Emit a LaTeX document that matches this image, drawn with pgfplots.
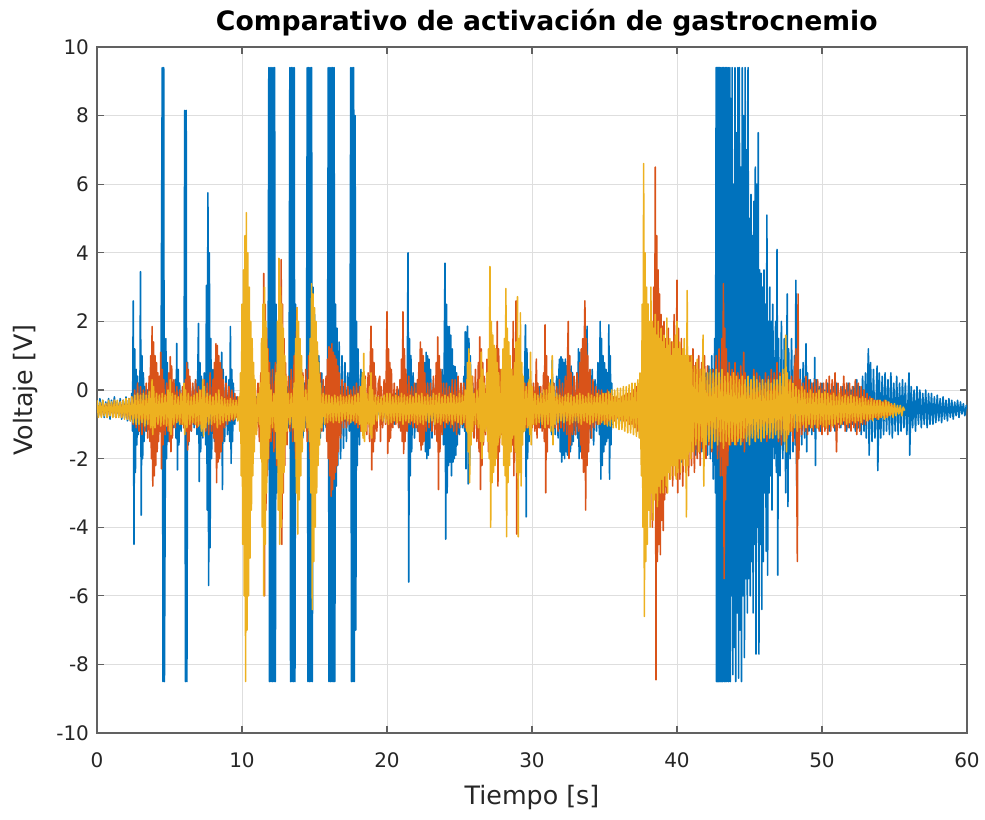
\documentclass[border=0pt]{standalone}
\usepackage{pgfplots}
\pgfplotsset{compat=1.18}
\usepackage{fontspec}
\setmainfont{DejaVu Sans}
\definecolor{mblue}{rgb}{0,0.447,0.741}
\definecolor{morange}{rgb}{0.85,0.325,0.098}
\definecolor{myellow}{rgb}{0.929,0.694,0.125}
\begin{document}
\begin{tikzpicture}
\begin{axis}[
  scale only axis, width=652.5pt, height=514.5pt,
  xmin=0, xmax=60, ymin=-10, ymax=10,
  xtick={0,10,...,60}, ytick={-10,-8,...,10},
  grid=major, major grid style={color=black!13, line width=0.6pt},
  axis line style={color=black!62, line width=1pt},
  major tick length=5pt, tick style={color=black!62, line width=0.8pt},
  tick align=inside,
  /pgf/number format/assume math mode=true,
  ticklabel style={font=\fontsize{15}{18}\selectfont, color=black!85},
  xticklabel style={yshift=-11pt},
  yticklabel style={xshift=-2.5pt},
  xlabel={Tiempo [s]}, ylabel={Voltaje [V]},
  label style={font=\fontsize{19}{22}\selectfont, color=black!85},
  xlabel style={at={(axis description cs:0.5,-0.1035)}, anchor=base},
  ylabel style={at={(axis description cs:-0.0747,0.5)}, anchor=base},
  title={Comparativo de activación de gastrocnemio},
  title style={font=\bfseries\fontsize{20}{24}\selectfont, at={(axis description cs:0.517,1.0131)}, anchor=base},
  every axis plot/.append style={line width=1.2pt, line join=round},
]
% blue
\addplot[mblue] coordinates {
(0,-0.4)(0.1,-0.75)(0.2,-0.25)(0.3,-0.7)(0.4,-0.3)(0.5,-0.8)(0.6,-0.35)(0.7,-0.75)(0.8,-0.25)(0.9,-0.85)(1,-0.3)(1.1,-0.7)(1.2,-0.2)(1.3,-0.8)(1.4,-0.35)(1.5,-0.75)(1.6,-0.25)(1.7,-0.85)(1.8,-0.3)(1.9,-0.8)(2,-0.2)(2.1,-0.9)(2.2,-0.25)(2.3,-0.85)(2.4,-0.1)
(2.45,-1.2)(2.5,2.6)(2.55,-4.5)(2.6,1.2)(2.65,-2.4)(2.7,0.6)(2.75,-1.6)(2.8,0.4)(2.85,-1.3)(2.9,0.2)(2.95,-1.2)(3,3.45)(3.05,-3.65)(3.1,1)(3.15,-2)(3.2,0.5)(3.25,-1.5)(3.3,0.1)(3.4,-1.2)(3.5,0)(3.6,-1.1)(3.7,-0.1)(3.8,-1)(3.9,0)(4,-1.1)(4.1,-0.1)(4.2,-1)(4.3,0.2)(4.4,-1.2)
(4.5,9.4)(4.55,-8.5)(4.6,9.4)(4.65,-8.5)(4.75,1.5)(4.8,-2)(4.85,0.8)(4.9,-1.5)(5,0.3)(5.1,-1.2)(5.2,0.1)(5.3,-1.1)(5.4,0.3)(5.45,-1.4)(5.5,1.36)(5.55,-2.33)(5.6,0.6)(5.65,-1.6)(5.7,0.2)(5.8,-1.2)(5.9,0)(6,-1.1)
(6.05,8.15)(6.1,-8.5)(6.15,8.15)(6.2,-8.5)(6.25,0.8)(6.3,-1.6)(6.4,0.3)(6.5,-1.2)(6.6,0.1)(6.7,-1.1)(6.8,0.3)(6.9,-1.3)(6.95,0.5)(7,1.94)(7.05,-2.67)(7.1,0.8)(7.15,-1.8)(7.2,0.4)(7.3,-1.4)(7.4,0.5)(7.5,-1.6)(7.55,3.05)(7.6,-3.5)(7.65,5.75)(7.7,-5.7)(7.75,4)(7.8,-4.6)(7.85,1.5)(7.9,-2)(8,0.6)(8.1,-1.5)(8.2,0.4)(8.3,-1.3)(8.4,0.2)(8.5,-1.1)(8.6,1.1)(8.65,-2.9)(8.7,0.6)(8.8,-1.5)(8.9,0.4)(9,-1.3)(9.1,0.3)(9.15,-1.5)(9.2,1.85)(9.25,-2.14)(9.3,0.6)(9.35,-1.5)(9.4,0.2)(9.5,-1)(9.6,-0.2)(9.7,-0.85)(9.8,-0.3)(9.9,-0.8)(10,-0.25)(10.1,-0.9)(10.2,-0.3)(10.3,-0.8)(10.4,-0.2)(10.5,-0.9)(10.6,-0.25)(10.7,-0.85)(10.8,-0.3)(10.9,-0.9)(11,-0.2)(11.1,-0.95)(11.2,-0.25)(11.3,-0.9)(11.4,-0.1)(11.5,-1)(11.6,-0.15)(11.7,-1.1)(11.8,0)
(11.85,9.4)(11.9,-8.5)(11.95,9.4)(12,-8.5)(12.05,9.4)(12.1,-8.5)(12.15,9.4)(12.2,-8.5)(12.25,9.4)(12.3,-8.5)(12.35,2.5)(12.4,-3)(12.45,1.8)(12.5,-2.4)(12.55,1.2)(12.6,-2)(12.7,0.8)(12.8,-1.6)(12.9,0.4)(13,-1.3)(13.1,0.1)(13.2,-1.1)(13.25,0)
(13.3,9.4)(13.35,-8.5)(13.4,9.4)(13.45,-8.5)(13.5,9.4)(13.55,-8.5)(13.6,9.4)(13.65,-8.5)(13.7,2.5)(13.75,-2.8)(13.8,1.8)(13.85,-2.2)(13.9,1.2)(14,-1.8)(14.1,0.6)(14.2,-1.4)(14.3,0.2)(14.4,-1.1)(14.45,0)
(14.5,9.4)(14.55,-8.5)(14.6,9.4)(14.65,-8.5)(14.7,9.4)(14.75,-8.5)(14.8,9.4)(14.85,-8.5)(14.9,3)(14.95,-3)(15,2.2)(15.05,-2.4)(15.1,1.6)(15.2,-1.8)(15.3,1)(15.4,-1.4)(15.5,0.5)(15.6,-1.2)(15.7,0.1)(15.8,-1.1)(15.9,0)
(15.95,9.4)(16,-8.5)(16.05,9.4)(16.1,-8.5)(16.15,9.4)(16.2,-8.5)(16.25,9.4)(16.3,-8.5)(16.35,9.4)(16.4,-8.5)(16.45,2.5)(16.5,-2.8)(16.55,1.8)(16.6,-2.2)(16.7,1.4)(16.8,-2)(16.9,1)(17,-1.7)(17.1,0.8)(17.2,-1.5)(17.3,0.5)(17.4,-1.2)(17.45,0.2)
(17.5,9.4)(17.55,-8.5)(17.6,9.4)(17.65,-8.5)(17.7,9.4)(17.75,-8.5)(17.8,8)(17.85,-7)(17.9,2)(17.95,-2.2)(18,1.2)(18.1,-1.6)(18.2,0.6)(18.3,-1.2)(18.4,0.1)(18.5,-1)(18.6,-0.1)(18.7,-0.9)(18.8,-0.2)(18.9,-0.9)(19,-0.2)(19.1,-0.85)(19.2,-0.25)(19.3,-0.9)(19.4,-0.2)(19.5,-0.8)(19.6,-0.3)(19.7,-0.95)(19.8,-0.2)(19.9,-0.85)(20,-0.1)(20.1,-1)(20.2,0)(20.3,-0.9)(20.4,-0.2)(20.5,-1)(20.6,-0.1)(20.7,-0.9)(20.8,0)(20.9,-1.1)(21,0.1)(21.1,-1)(21.2,-0.1)(21.3,-1.2)(21.4,0.3)
(21.45,4)(21.5,-5.6)(21.55,1.5)(21.6,-2.5)(21.65,1)(21.7,-1.8)(21.8,0.5)(21.9,-1.4)(22,0.2)(22.1,-1.2)(22.2,0.3)(22.3,-1.3)(22.4,0.4)(22.5,-1.4)
(22.6,0.8)(22.65,-1.8)(22.7,1.1)(22.75,-2)(22.8,1)(22.85,-1.9)(22.9,0.9)(22.95,-1.7)(23,0.6)(23.1,-1.4)(23.2,0.2)(23.3,-1.1)(23.4,0.1)(23.5,-1.2)(23.6,0.3)(23.7,-1.3)(23.8,0.6)(23.9,-1.6)
(23.95,1)(24,3.7)(24.05,-4.35)(24.1,2.5)(24.15,-3)(24.2,1.85)(24.25,-2.2)(24.3,1.85)(24.35,-2.1)(24.4,1.6)(24.45,-2.5)(24.5,1.2)(24.55,-2.1)(24.6,0.7)(24.65,-2)(24.7,0.68)(24.75,-1.9)(24.8,0.5)(24.85,-1.6)(24.9,0.3)(25,-1.3)(25.1,0.1)(25.2,-1.1)(25.3,0.4)(25.35,-1.2)
(25.4,1.7)(25.45,-2.3)(25.5,1.2)(25.55,1.86)(25.6,-2.74)(25.65,1.5)(25.7,-2.2)(25.75,1)(25.8,-1.5)(25.9,0.2)(26,-1.1)(26.1,0)(26.2,-1)(26.3,-0.1)(26.4,-0.9)(26.5,0.1)(26.6,-1.1)(26.7,-0.2)(26.8,-1)(26.9,0)(27,-0.9)(27.1,-0.1)(27.2,-1.1)(27.3,0.1)(27.4,-1)(27.5,0)(27.6,-1.2)(27.7,0.2)(27.8,-1)(27.9,0)(28,-1.1)(28.1,0.2)(28.2,-1.3)(28.3,0.1)(28.4,-1.2)(28.5,0.3)(28.6,-1.1)(28.7,0.1)(28.8,-1.3)(28.9,0.2)(29,-1.2)(29.1,0.4)(29.2,-1.4)(29.3,0.3)(29.4,-1.2)(29.5,0.6)
(29.55,1.9)(29.6,-3.7)(29.65,1.2)(29.7,-2)(29.75,0.6)(29.8,-1.5)(29.9,0.2)(30,-1)(30.1,0)(30.2,-1.1)(30.3,-0.1)(30.4,-1)(30.5,0.1)(30.6,-1.1)(30.7,-0.1)(30.8,-1)(30.9,0.2)(31,-1.2)(31.1,0)(31.2,-1.1)(31.3,0.3)(31.35,-1.3)(31.4,0.87)(31.45,-1.5)(31.5,0.2)(31.6,-1.3)(31.7,0.4)(31.8,-1.4)(31.85,0.5)
(31.9,0.9)(31.95,-1.8)(32,0.97)(32.05,-2.1)(32.1,0.9)(32.15,-1.9)(32.2,0.8)(32.25,-2)(32.3,0.9)(32.35,-1.8)(32.4,0.7)(32.45,-1.9)(32.5,0.8)(32.55,-1.7)(32.6,0.6)(32.65,-1.8)(32.7,0.7)(32.75,-1.6)(32.8,0.5)(32.85,-1.5)(32.9,0.3)(33,-1.3)(33.1,0.5)(33.15,-1.4)(33.2,1.2)(33.25,-2)(33.3,1.1)(33.35,-1.8)(33.4,0.6)(33.45,-1.6)(33.55,0.7)(33.65,-1.4)(33.75,0.6)(33.8,1.86)(33.85,-1.8)(33.95,0.4)(34.05,-1.4)(34.15,0.6)(34.25,-1.6)(34.35,0.3)(34.45,-1.2)(34.55,0.8)(34.65,-1.3)
(34.7,2)(34.75,-2.6)(34.8,1.5)(34.85,-2.2)(34.9,1)(34.95,-1.8)(35,0.8)(35.05,-1.6)(35.1,0.6)(35.15,-1.5)(35.2,0.5)(35.25,-1.4)(35.3,1.9)(35.35,-2.6)(35.4,1)(35.45,-1.6)(35.5,0.2)(35.55,-1)(35.65,-0.2)(35.75,-0.9)(35.85,-0.3)(35.95,-0.85)(36.05,-0.25)(36.15,-0.9)(36.25,-0.3)(36.35,-0.8)(36.45,-0.2)(36.55,-0.85)(36.65,-0.3)(36.75,-0.9)(36.85,-0.25)(36.95,-0.8)(37.05,-0.2)(37.15,-0.95)(37.25,-0.1)(37.35,-1)(37.45,0)
(37.5,-1.1)(37.6,0.1)(37.7,-1.2)(37.8,0.2)(37.9,-1.4)(38,0.3)(38.1,-1.5)(38.2,0.5)(38.3,-1.6)(38.4,0.4)(38.5,-1.5)(38.6,0.6)(38.7,-1.8)(38.8,0.5)(38.9,-1.6)(39,0.7)(39.1,-1.7)(39.2,0.5)(39.3,-1.8)(39.4,0.6)(39.5,-1.9)(39.6,0.8)(39.7,-1.7)(39.8,0.6)(39.9,-2)(40,0.9)(40.1,-1.8)(40.2,0.7)(40.3,-2.1)(40.4,0.6)(40.5,-1.9)(40.6,0.8)(40.7,-1.7)(40.8,0.5)(40.9,-1.8)(41,0.6)(41.1,-1.6)(41.2,0.7)(41.3,-1.9)(41.4,0.5)(41.5,-1.7)(41.6,0.6)(41.7,-1.8)(41.8,0.4)(41.9,-1.6)(42,0.5)(42.1,-1.9)(42.2,0.7)(42.3,-2)(42.4,1)(42.5,-2.6)(42.6,1.5)(42.65,-3)
(42.7,9.4)(42.725,-8.5)(42.75,9.4)(42.775,-8.5)(42.8,9.4)(42.825,-8.5)(42.85,9.4)(42.875,-8.5)(42.9,9.4)(42.925,-8.5)(42.95,9.4)(42.975,-8.5)(43,9.4)(43.025,-8.5)(43.05,9.4)(43.075,-8.5)(43.1,8)(43.125,-8.5)(43.15,9.4)(43.175,-8.5)(43.2,9.4)(43.225,-7.5)(43.25,9.4)(43.275,-8.5)(43.3,6.5)(43.325,-8.5)(43.35,9.4)(43.375,-8)(43.4,9.4)(43.425,-8.5)(43.45,7)(43.475,-6.5)(43.5,9.4)(43.525,-8.5)(43.55,9.4)(43.575,-8.5)(43.6,5.5)(43.625,-7)(43.65,9.4)(43.675,-8.5)(43.7,8.5)(43.75,-6)(43.8,9.4)(43.85,-8.3)(43.9,6)(43.95,-7.5)(44,9.4)(44.05,-8.5)(44.1,7.5)(44.15,-6.5)(44.2,9.4)(44.25,-8.4)(44.3,9.4)(44.35,-7)(44.4,6.5)(44.45,-8.5)(44.5,9.4)(44.55,-6)(44.6,8)(44.65,-7.8)(44.7,9.4)(44.75,-5.5)(44.8,7)(44.85,-6.5)(44.9,9.4)(44.95,-5.5)
(45,5)(45.05,-6)(45.1,5.7)(45.15,-5)(45.2,4.5)(45.25,-6.5)(45.3,5.5)(45.35,-4.5)(45.4,6.5)(45.45,-7.7)(45.5,6)(45.55,-4)(45.6,7.5)(45.65,-7.7)(45.7,3.5)(45.75,-4.5)(45.8,3.4)(45.85,-6.4)(45.9,3)(45.95,-5)(46,3.5)(46.05,-3)(46.1,2.5)(46.15,-4.7)(46.2,5.1)(46.25,-5.4)(46.3,2)(46.35,-3)(46.4,3)(46.45,-2.5)(46.5,2)(46.55,-3.5)(46.6,2.5)(46.7,-2)(46.8,2)(46.85,-2.4)(46.9,4.1)(46.95,-5.4)(47,1.5)(47.1,-2.5)(47.2,2)(47.3,-2)(47.4,1.5)(47.5,-3)(47.6,2.8)(47.65,-3.4)(47.7,1.2)(47.8,-2)(47.9,1.5)(48,-1.8)(48.1,1)(48.15,-1.6)(48.2,3.2)(48.25,-2.8)(48.3,0.8)(48.4,-1.5)(48.5,0.6)(48.6,-1.6)(48.7,0.8)(48.8,-1.4)(48.9,1.35)(48.95,-1.8)(49,0.5)(49.1,-1.2)(49.2,0.3)(49.3,-1.3)(49.4,0.2)(49.45,-1.2)(49.5,0.95)(49.55,-2.2)
(49.6,0.3)(49.7,-1.1)(49.8,0.1)(49.9,-1.2)(50,0.2)(50.1,-1)(50.2,0)(50.3,-1.1)(50.4,0.2)(50.5,-1.2)(50.6,0)(50.7,-1)(50.8,0.1)(50.9,-1.2)(51,0.2)(51.1,-1)(51.2,-0.1)(51.3,-1.1)(51.4,0.1)(51.5,-1)(51.6,0)(51.7,-1.2)(51.8,0.2)(51.9,-1.1)(52,0)(52.1,-1)(52.2,0.1)(52.3,-1.2)(52.4,0.3)(52.5,-1.1)(52.6,0.1)(52.7,-1.3)(52.8,0.4)(52.9,-1.2)(53,0.5)(53.05,-1.4)(53.2,1.2)(53.25,-1.9)(53.35,0.8)(53.45,-1.5)(53.55,0.6)(53.65,-1.4)(53.8,0.7)(53.85,-2.35)(53.95,0.5)(54.05,-1.4)(54.15,0.4)(54.25,-1.3)(54.35,0.5)(54.45,-1.2)(54.55,0.3)(54.65,-1.3)(54.75,0.5)(54.85,-1.4)(54.95,0.2)(55.05,-1.2)(55.15,0.4)(55.25,-1.3)(55.35,0.2)(55.45,-1.2)(55.55,0.3)(55.65,-1.1)(55.75,0.2)(55.85,-1.3)(56,0.5)(56.05,-1.9)(56.15,0.1)(56.25,-1.1)(56.35,0)(56.45,-1.2)(56.55,0.1)(56.65,-1)(56.75,0)(56.85,-1.1)(56.95,-0.1)(57.05,-1)(57.15,0)(57.25,-1.1)(57.35,-0.1)(57.45,-1)(57.55,-0.1)(57.65,-1)(57.75,-0.2)(57.85,-0.95)(57.95,-0.15)(58.05,-0.9)(58.15,-0.25)(58.25,-0.95)(58.35,-0.2)(58.45,-0.85)(58.55,-0.3)(58.65,-0.9)(58.75,-0.25)(58.85,-0.8)(58.95,-0.3)(59.05,-0.85)(59.15,-0.35)(59.25,-0.75)(59.35,-0.3)(59.45,-0.8)(59.55,-0.35)(59.65,-0.7)(59.75,-0.4)(59.85,-0.75)(59.95,-0.45)(60,-0.55)
};
% orange
\addplot[morange] coordinates {
(0,-0.4)(0.1,-0.7)(0.2,-0.45)(0.3,-0.75)(0.4,-0.35)(0.5,-0.7)(0.6,-0.4)(0.7,-0.8)(0.8,-0.35)(0.9,-0.7)(1,-0.4)(1.1,-0.75)(1.2,-0.3)(1.3,-0.8)(1.4,-0.4)(1.5,-0.7)(1.6,-0.35)(1.7,-0.8)(1.8,-0.3)(1.9,-0.75)(2,-0.35)(2.1,-0.85)(2.2,-0.25)(2.3,-0.9)(2.4,-0.2)
(2.5,-1)(2.6,0)(2.7,-1.1)(2.8,0.2)(2.9,-1.2)(3,0.1)(3.1,-1.3)(3.2,0)(3.3,-1.2)(3.4,0.2)(3.5,-1.4)
(3.6,0.4)(3.65,-1.5)(3.7,1)(3.75,-2)(3.8,1.85)(3.85,-2.8)(3.9,1.4)(3.95,-2.5)(4,1)(4.05,-2.2)(4.1,0.8)(4.15,-1.8)(4.2,0.5)(4.25,-1.5)(4.3,0.4)(4.35,-1.2)(4.4,1.1)(4.45,-2.3)(4.5,0.6)(4.55,-1.6)(4.6,0.3)(4.7,-1.3)(4.8,0.2)(4.9,-1.2)
(4.95,0.5)(5,-1.5)(5.05,0.97)(5.1,-1.8)(5.15,0.7)(5.2,-1.4)(5.3,0.3)(5.4,-1.1)(5.5,0.1)(5.6,-0.9)(5.7,0)(5.8,-1)(5.9,0.1)(6,-1.1)(6.1,0.3)(6.15,-1.2)(6.2,0.8)(6.25,-1.75)(6.3,0.6)(6.35,-1.5)(6.4,0.4)(6.5,-1.2)(6.6,0.2)(6.7,-1)(6.8,0.3)(6.9,-1.1)(7,0.1)(7.1,-1)(7.2,0)(7.3,-1.1)(7.4,0.3)(7.5,-1.2)(7.6,0.2)(7.7,-1.3)(7.8,0.5)(7.9,-1.2)(8,0.3)(8.05,-1.4)
(8.1,0.8)(8.15,-1.8)(8.2,1.35)(8.25,-2.7)(8.3,1.3)(8.35,-2.1)(8.4,1)(8.45,-2)(8.5,0.8)(8.55,-1.8)(8.6,0.6)(8.65,-1.5)(8.7,0.3)(8.8,-1.1)(8.9,0.2)(9,-1)(9.1,0.1)(9.2,-0.9)(9.3,0)(9.4,-0.9)(9.5,-0.1)(9.6,-0.8)(9.7,-0.2)(9.8,-0.85)(9.9,-0.3)(10,-0.8)(10.1,-0.25)(10.2,-0.9)(10.3,-0.2)(10.4,-1)(10.5,-0.1)(10.6,-1)(10.7,0)(10.8,-1.1)(10.9,0.1)(11,-1.2)(11.1,0.2)(11.2,-1.5)(11.3,0.5)(11.35,-2)
(11.4,1.5)(11.45,-3)(11.5,3.4)(11.55,-6)(11.6,2.5)(11.65,-3.5)(11.7,1.8)(11.75,-2.5)(11.8,1.2)(11.85,-2)(11.9,0.8)(12,-1.5)(12.1,0.6)(12.2,-1.8)(12.3,0.8)(12.4,-2.2)(12.5,1.5)(12.55,-2.5)(12.6,2)(12.65,-3)(12.7,3.8)(12.75,-4.5)(12.8,2.5)(12.85,-3)(12.9,1.5)(12.95,-2.2)(13,0.8)(13.1,-1.6)(13.2,0.4)(13.3,-1.2)(13.4,0.6)(13.5,-1.5)(13.6,1)(13.7,-2)(13.75,1.5)(13.8,2.4)(13.85,-2.8)(13.9,1.5)(13.95,-2)(14,1)(14.1,-1.5)(14.2,0.5)(14.3,-1.2)(14.4,0.6)(14.5,-1.5)(14.6,1)(14.7,-2)(14.75,1.5)(14.8,-2.5)(14.9,2)(14.95,-2.2)(15,1.5)(15.1,-1.8)(15.2,1)(15.3,-1.5)(15.4,0.5)(15.5,-1.2)(15.6,0.3)(15.7,-1)(15.8,0.4)(15.85,-1.5)
(15.9,0.9)(15.95,-2)(16,1.26)(16.05,-2.5)(16.1,1.2)(16.15,-3.1)(16.2,1.35)(16.25,-2.9)(16.3,1.1)(16.35,-2.6)(16.4,1)(16.45,-2.4)(16.5,0.9)(16.55,-2.2)(16.6,0.7)(16.65,-1.8)(16.7,0.5)(16.8,-1.4)(16.9,0.3)(17,-1.1)(17.1,0.2)(17.2,-1.1)(17.3,0.1)(17.4,-1)(17.5,0)(17.6,-0.9)(17.7,0.1)(17.8,-1)(17.9,0.2)(18,-1.1)(18.1,0.1)(18.2,-1.2)(18.3,0.3)(18.4,-1.1)(18.5,0.4)(18.6,-1.3)(18.7,0.5)(18.8,-1.5)(18.85,0.8)(18.9,1.86)(18.95,-2.33)(19,1.2)(19.05,-1.8)(19.1,0.8)(19.15,-1.5)(19.2,0.4)(19.3,-1.2)(19.4,0.2)(19.5,0.4)(19.55,-1.5)(19.6,0.1)(19.7,-1.1)(19.8,0.3)(19.9,-1)(19.95,0.5)(20,2.28)(20.05,-1.85)(20.1,1.2)(20.15,-1.5)(20.2,0.8)(20.25,-1.4)(20.3,0.6)(20.4,-1.1)(20.5,0.2)(20.6,-1)(20.7,0.1)(20.8,-1.1)(20.9,0.3)(20.95,-1.2)(21,0.9)(21.05,-1.5)(21.1,2.28)(21.15,-1.85)(21.2,1.2)(21.25,-1.5)(21.3,0.6)(21.4,-1.2)(21.5,0.4)(21.6,-1)(21.7,0.1)(21.8,-1.1)(21.9,0.2)(22,-1.1)(22.1,0.3)(22.15,-1.2)
(22.2,0.8)(22.25,-1.5)(22.3,1.4)(22.35,-1.75)(22.4,1.2)(22.45,-1.6)(22.5,1)(22.55,-1.5)(22.6,0.5)(22.7,-1.2)(22.8,0.2)(22.9,-1.1)(23,0.2)(23.1,-1.2)(23.2,0.4)(23.3,-1.3)(23.4,0.8)(23.45,-1.5)(23.5,1.55)(23.55,-2.9)(23.6,1)(23.65,-1.8)(23.7,0.6)(23.8,-1.3)(23.9,0.2)(24,-1.1)(24.1,0.2)(24.2,-1)(24.3,0.1)(24.4,-1.1)(24.5,0.3)(24.6,-1.2)(24.7,0.3)(24.8,-1.3)(24.9,0.4)(25,-1.1)(25.1,0.2)(25.2,-1)(25.3,0.2)(25.4,-1.1)(25.5,0.3)(25.6,-1.2)(25.7,0.5)(25.8,-1.3)(25.9,0.4)(26,-1.4)(26.1,0.6)(26.2,-1.5)(26.3,0.8)
(26.35,-1.8)(26.4,1.55)(26.45,-2.9)(26.5,1.2)(26.55,-2.2)(26.6,0.8)(26.65,-1.6)(26.7,0.4)(26.8,-1.3)(26.9,0.9)(27,-1.8)(27.1,0.5)(27.2,-1.2)(27.3,0.4)(27.4,-1.3)(27.5,0.8)(27.55,-1.3)(27.6,2)(27.65,-2.8)(27.7,1.2)(27.75,-1.8)(27.8,0.6)(27.9,-1.3)(28,0.3)(28.1,-1.2)(28.2,0.3)(28.3,-1.1)(28.4,0.4)(28.5,-1.3)(28.6,0.5)(28.65,-1.6)(28.7,2)(28.75,-2.5)(28.8,1.2)(28.85,-1.8)(28.9,2.6)(28.95,-4.2)(29,1.2)(29.05,-2)(29.1,0.6)(29.2,-1.4)(29.3,0.3)(29.4,-1.2)(29.5,0.2)(29.6,-1.1)(29.7,0.2)(29.8,-1)(29.9,0.3)(30,-1.1)(30.1,0.2)(30.2,-1.2)(30.3,0.9)(30.35,-1.4)(30.4,0.2)(30.5,-1.1)(30.6,0.1)(30.7,-1.2)(30.8,0.5)(30.85,-1.5)(30.9,1.9)(30.95,-3)(31,1)(31.05,-1.8)(31.1,0.4)(31.2,-1.1)(31.3,0.1)(31.4,-1)(31.5,0.2)(31.6,-1.1)(31.7,0.1)(31.8,-1.2)(31.9,0.3)(32,-1.1)(32.1,0.2)(32.2,-1.2)(32.3,0.4)(32.4,-1.3)(32.45,0.8)(32.5,2)(32.55,-2)(32.6,1)(32.65,-1.6)(32.7,0.5)(32.8,-1.3)(32.9,0.4)(33,-1.3)(33.1,0.5)(33.2,-1.2)(33.3,0.8)(33.35,-1.6)(33.4,1.2)(33.45,-2)(33.5,1.5)(33.55,-2.4)(33.6,1.2)(33.65,2.6)(33.7,-3.5)(33.75,1.5)(33.8,-2.2)(33.85,1)(33.9,-1.8)(34,0.6)(34.1,-1.4)(34.2,0.3)(34.3,-1.1)(34.4,0.1)(34.5,-1)(34.6,0)(34.7,-1)(34.8,0)(34.9,-0.9)(35,-0.1)(35.1,-1)(35.2,0)(35.3,-0.9)(35.4,-0.1)(35.5,-0.85)(35.6,-0.2)(35.7,-0.9)(35.8,-0.2)(35.9,-0.8)(36,-0.25)(36.1,-0.85)(36.2,-0.2)(36.3,-0.9)(36.4,-0.15)(36.5,-0.9)(36.6,-0.1)(36.7,-1)(36.8,-0.1)(36.9,-1)(37,0)(37.1,-1.1)(37.2,0.1)(37.3,-1.2)(37.4,0.2)(37.5,-1.3)(37.55,0.4)(37.6,-1.5)(37.65,1)
(37.7,-2)(37.8,1.5)(37.9,-3)(38,2.5)(38.1,-3.5)(38.2,2)(38.3,-4)(38.4,3)(38.45,-2.5)(38.5,6.5)(38.55,-8.45)(38.6,4.5)(38.65,-5)(38.7,3.5)(38.75,-4.5)(38.8,2.8)(38.85,-4.8)(38.9,2.2)(38.95,-3.8)(39,1.86)(39.05,-4.1)(39.1,2)(39.15,-3.2)(39.2,1.5)(39.3,-3)(39.4,1.8)(39.5,-2.6)(39.6,1.4)(39.7,-2.8)(39.8,2.2)(39.9,-2.5)(40,3.2)(40.05,-3)(40.1,1.8)(40.2,-2.6)(40.3,1.5)(40.4,-2.8)(40.5,1.2)(40.6,-2.4)(40.7,1.4)(40.8,-2.5)(40.9,1)(41,-2.2)(41.1,1.2)(41.2,-2.4)(41.3,0.8)(41.4,-2)(41.5,1)(41.6,-2.2)(41.7,0.8)(41.8,-1.8)(41.9,1)(42,-2)(42.1,0.7)(42.2,-1.6)(42.3,0.5)(42.4,-1.8)(42.5,0.6)(42.6,-1.5)(42.7,1)(42.8,-2)(42.9,1.2)(43,-2.5)(43.1,1.5)(43.15,-2.5)(43.2,3.1)(43.25,-5.5)(43.3,1.8)(43.35,-3.2)(43.4,1.2)(43.5,-2.2)(43.6,0.8)(43.7,-1.6)(43.8,0.6)(43.9,-1.5)(44,0.8)(44.1,-1.6)(44.2,0.5)(44.3,-1.4)(44.4,0.7)(44.5,-1.5)(44.6,1.1)(44.65,-1.8)(44.7,0.5)(44.8,-1.3)(44.9,0.4)(45,-1.4)(45.1,0.3)(45.2,-1.2)(45.3,0.6)(45.4,-1.5)(45.5,0.5)(45.6,-1.3)(45.7,0.4)(45.8,-1.4)(45.9,0.3)(46,-1.2)(46.1,0.5)(46.2,-1.5)(46.3,0.4)(46.4,-1.3)(46.5,0.6)(46.6,-1.4)(46.7,0.5)(46.8,-1.2)(46.9,0.8)(47,-1.5)(47.1,0.5)(47.2,-1.6)(47.3,0.4)(47.4,-1.3)(47.5,0.6)(47.6,-1.4)(47.7,0.3)(47.8,-1.2)(47.9,0.4)(48,-1.5)(48.1,0.5)(48.2,1.2)(48.3,-5)(48.35,2.8)(48.4,-2)(48.5,0.3)(48.6,-1.3)(48.7,0.2)(48.8,-1.2)(48.9,0.4)(49,-1.3)(49.1,0.3)(49.2,-1.1)(49.3,0.2)(49.4,-1.2)(49.5,0.3)(49.6,-1.1)(49.7,0.3)(49.8,-1.2)(49.9,0.2)(50,-1.3)(50.1,0.2)(50.2,-1.2)(50.3,0.3)(50.4,-1.3)(50.5,0.4)(50.6,-1.2)(50.7,0.3)(50.8,-1.1)(50.9,0.5)(51,-1.8)(51.1,0.2)(51.2,-1.1)(51.3,0.1)(51.4,-1)(51.5,0.4)(51.6,-1.2)(51.7,0.2)(51.8,-1.1)(51.9,0.2)(52,-1.2)(52.1,0.1)(52.2,-1.1)(52.3,0.3)(52.4,-1.3)(52.5,0.2)(52.6,-1.2)(52.7,0.1)(52.8,-1)(52.9,0)(53,-1)(53.1,-0.1)(53.2,-0.9)(53.3,-0.2)(53.4,-0.85)(53.5,-0.25)(53.6,-0.8)(53.7,-0.3)(53.8,-0.85)(53.9,-0.3)(54,-0.8)(54.1,-0.35)(54.2,-0.75)(54.3,-0.3)(54.4,-0.8)(54.5,-0.35)(54.6,-0.75)(54.7,-0.4)(54.8,-0.7)(54.9,-0.45)(55,-0.6)
};
% yellow
\addplot[myellow] coordinates {
(0,-0.3)(0.1,-0.8)(0.2,-0.35)(0.3,-0.8)(0.4,-0.3)(0.5,-0.75)(0.6,-0.4)(0.7,-0.8)(0.8,-0.3)(0.9,-0.75)(1,-0.35)(1.1,-0.8)(1.2,-0.3)(1.3,-0.8)(1.4,-0.3)(1.5,-0.8)(1.6,-0.35)(1.7,-0.8)(1.8,-0.3)(1.9,-0.85)(2,-0.25)(2.1,-0.85)(2.2,-0.25)(2.3,-0.9)(2.4,-0.2)
(2.5,-0.95)(2.6,-0.15)(2.7,-1)(2.8,-0.1)(2.9,-1)(3,-0.15)(3.1,-0.95)(3.2,-0.1)(3.3,-1.05)(3.4,-0.15)(3.5,-1)(3.6,-0.05)(3.7,-1.1)(3.8,0.3)(3.85,-1.3)(3.9,0.1)(4,-1.1)(4.1,-0.1)(4.2,-1)(4.3,-0.15)(4.4,-1.05)(4.5,-0.1)(4.6,-1)(4.7,-0.15)(4.8,-1.05)(4.9,0)(5,-1.2)(5.05,0.3)(5.1,-1.3)(5.2,-0.1)(5.3,-1)(5.4,-0.15)(5.5,-0.95)(5.6,-0.2)(5.7,-1)(5.8,-0.1)(5.9,-1)(6,0.2)(6.05,-1.3)(6.1,0)(6.2,-1.1)(6.3,-0.1)(6.4,-1)(6.5,-0.2)(6.6,-0.95)(6.7,-0.15)(6.8,-1)(6.9,-0.1)(7,-1.05)(7.1,0)(7.2,-1.2)(7.3,0.3)(7.35,-1.35)(7.4,0.1)(7.5,-1.1)(7.6,-0.1)(7.7,-1)(7.8,-0.15)(7.9,-1)(8,-0.2)(8.1,-0.95)(8.2,-0.1)(8.3,-1.1)(8.4,0)(8.5,-1)(8.6,-0.2)(8.7,-0.95)(8.8,-0.25)(8.9,-0.9)(9,-0.3)(9.1,-0.9)(9.2,-0.25)(9.3,-0.85)(9.4,-0.3)(9.5,-0.85)(9.6,-0.3)(9.7,-0.9)(9.8,-0.2)
(9.85,-1.2)(9.9,0.5)(9.95,-2.5)(10,2.5)(10.05,-4.5)(10.1,3.5)(10.15,-6)(10.2,4.5)(10.25,-8.5)(10.3,5.17)(10.35,-7)(10.4,4)(10.45,-6)(10.5,3)(10.55,-4.9)(10.6,2)(10.65,-3.5)(10.7,1.5)(10.75,-2.5)(10.8,0.8)(10.85,-1.8)(10.9,0.3)(11,-1.3)(11.1,-0.1)(11.2,-1)
(11.25,0.2)(11.3,-2)(11.35,1.5)(11.4,-4)(11.45,2.5)(11.5,-6)(11.55,3)(11.6,-4.5)(11.65,2)(11.7,-3)(11.75,1.2)(11.8,-2)(11.85,0.5)(11.9,-1.4)(12,0)(12.1,-1.1)(12.2,-0.1)(12.3,-1.2)
(12.35,0.5)(12.4,-2)(12.45,2)(12.5,-3.5)(12.55,3.84)(12.6,-4.5)(12.65,3)(12.7,-4)(12.75,2.5)(12.8,-3)(12.85,1.8)(12.9,-2.4)(12.95,1)(13,-1.6)(13.05,0.4)(13.1,-1.2)(13.2,-0.1)(13.3,-1)(13.4,-0.1)(13.5,-1.1)(13.6,0.2)
(13.65,-1.5)(13.7,1.5)(13.75,-3)(13.8,2.4)(13.85,-4.2)(13.9,2)(13.95,-3.2)(14,1.5)(14.05,-2.5)(14.1,1)(14.15,-1.8)(14.2,0.4)(14.3,-1.2)(14.4,0)(14.5,-1.1)(14.6,0.3)
(14.65,-1.5)(14.7,1.5)(14.75,-3)(14.8,3.1)(14.85,-6.4)(14.9,2.8)(14.95,-5)(15,2.4)(15.05,-4)(15.1,2)(15.15,-3)(15.2,1.4)(15.25,-2.2)(15.3,0.8)(15.35,-1.6)(15.4,0.2)(15.5,-1.1)(15.6,-0.1)(15.7,-1)
(15.8,-0.15)(15.9,-0.95)(16,-0.15)(16.1,-0.9)(16.2,-0.2)(16.3,-0.95)(16.4,-0.15)(16.5,-0.9)(16.6,-0.2)(16.7,-0.95)(16.8,-0.15)(16.9,-0.9)(17,-0.2)(17.1,-0.85)(17.2,-0.2)(17.3,-0.9)(17.4,-0.15)(17.5,-0.95)(17.6,-0.2)(17.7,-0.9)(17.8,-0.15)(17.9,-0.95)(18,-0.1)(18.1,-1)(18.2,0.1)(18.25,-1.2)(18.3,0.5)(18.35,-1.4)(18.4,1.07)(18.45,-1.5)(18.5,0.3)(18.55,-1.2)(18.6,-0.1)(18.7,-1)(18.8,0.1)(18.85,-1.3)(18.9,0.5)(18.95,-1.4)(19,0)(19.1,-1)(19.2,-0.15)(19.3,-0.9)(19.4,-0.2)(19.5,-0.85)(19.6,-0.2)(19.7,-0.9)(19.8,-0.15)(19.9,-0.95)(20,-0.1)(20.1,-1)(20.2,-0.1)(20.3,-0.95)(20.4,-0.2)(20.5,-0.9)(20.6,-0.15)(20.7,-0.95)(20.8,-0.2)(20.9,-0.9)(21,-0.1)(21.1,-1)(21.2,-0.15)(21.3,-0.9)(21.4,-0.2)(21.5,-0.95)(21.6,-0.15)(21.7,-0.9)(21.8,-0.2)(21.9,-0.95)(22,-0.1)(22.1,-1)(22.2,-0.15)(22.3,-0.95)(22.4,-0.1)(22.5,-1)(22.6,-0.2)(22.7,-0.9)(22.8,-0.15)(22.9,-0.95)(23,-0.2)(23.1,-0.9)(23.2,-0.1)(23.3,-1)(23.4,-0.15)(23.5,-0.95)(23.6,-0.1)(23.7,-1)(23.8,-0.2)(23.9,-0.9)(24,-0.15)(24.1,-0.95)(24.2,-0.2)(24.3,-0.9)(24.4,-0.1)(24.5,-1)(24.6,-0.15)(24.7,-0.9)(24.8,-0.2)(24.9,-0.95)(25,-0.1)(25.1,-1)(25.2,-0.15)(25.3,-0.95)(25.4,0)(25.5,-1.2)
(25.55,0.8)(25.6,-1.8)(25.65,1.2)(25.7,-2.7)(25.75,0.8)(25.8,-1.6)(25.85,0.4)(25.9,-1.2)(26,-0.1)(26.1,-1)(26.2,0)(26.3,-1.1)(26.4,0.3)(26.45,-1.5)(26.5,1.1)(26.55,-2)(26.6,0.6)(26.65,-1.5)(26.7,0.2)(26.8,-1.2)(26.9,0.5)(26.95,-1.5)
(27,1.2)(27.05,-2)(27.1,3.6)(27.15,-4)(27.2,2)(27.25,-2.7)(27.3,1.6)(27.35,-2.4)(27.4,1.3)(27.45,-2.2)(27.5,1.2)(27.55,-2)(27.6,0.8)(27.65,-1.6)(27.7,0.5)(27.8,-1.4)(27.9,0.6)(27.95,-1.6)
(28,1.2)(28.05,-2.2)(28.1,1.5)(28.15,-2.5)(28.2,2.96)(28.25,-4.28)(28.3,1.8)(28.35,-2.7)(28.4,1.4)(28.45,-2.2)(28.5,1)(28.55,-1.8)(28.6,0.6)(28.65,-1.4)(28.7,0.4)(28.75,-1.3)
(28.8,0.8)(28.85,-1.8)(28.9,1.4)(28.95,-2.4)(29,2.72)(29.05,-4.28)(29.1,1.5)(29.15,-2.4)(29.2,2.25)(29.25,-2.8)(29.3,0.8)(29.35,-1.6)(29.4,0.4)(29.5,-1.2)(29.6,0.1)(29.7,-1.1)(29.8,0.3)(29.85,-1.3)(29.9,1.1)(29.95,-1.6)(30,0.1)(30.1,-1)(30.2,-0.1)(30.3,-1)(30.4,-0.15)(30.5,-0.95)(30.6,-0.1)(30.7,-1)(30.8,0)(30.9,-1.1)(31,0)(31.1,-1)(31.2,0.2)(31.3,-1.2)(31.4,1)(31.45,-1.6)(31.5,0.1)(31.6,-1)(31.7,-0.1)(31.8,-0.95)(31.9,-0.15)(32,-0.9)(32.1,-0.2)(32.2,-0.95)(32.3,-0.15)(32.4,-0.9)(32.5,-0.1)(32.6,-1)(32.7,-0.15)(32.8,-0.95)(32.9,-0.2)(33,-0.9)(33.1,-0.15)(33.2,-0.95)(33.3,-0.1)(33.4,-1)(33.5,-0.15)(33.6,-0.9)(33.7,-0.2)(33.8,-0.95)(33.9,-0.1)(34,-1)(34.1,-0.15)(34.2,-0.95)(34.3,-0.2)(34.4,-0.9)(34.5,-0.1)(34.6,-1)(34.7,-0.15)(34.8,-0.95)(34.9,-0.1)(35,-1)(35.1,-0.1)(35.2,-1.05)(35.3,-0.05)(35.4,-1.05)(35.5,0)(35.6,-1.1)(35.7,0)(35.8,-1.1)(35.9,0.05)(36,-1.15)(36.1,0.05)(36.2,-1.15)(36.3,0.1)(36.4,-1.2)(36.5,0.1)(36.6,-1.25)(36.7,0.15)(36.8,-1.25)(36.9,0.2)(37,-1.3)(37.1,0.2)(37.2,-1.35)(37.3,0.3)(37.4,-1.4)(37.45,0.5)
(37.5,-1.2)(37.55,-2.5)(37.6,2.5)(37.65,-4)(37.7,6.6)(37.75,-6.6)(37.8,4)(37.85,-5)(37.9,3)(37.95,-4.5)(38,2.5)(38.05,-3.5)(38.1,2)(38.15,-4)(38.2,3)(38.25,-3)(38.3,2)(38.35,-3.8)(38.4,1.8)(38.45,-3.2)(38.5,2.2)(38.55,-3)(38.6,1.6)(38.65,-3.4)(38.7,2)(38.75,-2.8)(38.8,1.5)(38.85,-3)(38.9,1.8)(38.95,-2.6)(39,1.4)(39.05,-3)(39.1,1.6)(39.15,-2.5)(39.2,1.2)(39.25,-2.8)(39.3,2.1)(39.35,-3)(39.4,1.3)(39.45,-2.4)(39.5,1.5)(39.55,-2.6)(39.6,1)(39.65,-2.2)(39.7,1.4)(39.75,-2.5)(39.8,1.2)(39.85,-2.2)(39.9,1.6)(39.95,-2.6)(40,2)(40.05,-2.4)(40.1,1.2)(40.15,-2)(40.2,1.4)(40.25,-2.4)(40.3,1)(40.35,-2)(40.4,1.2)(40.45,-2.2)(40.5,1.5)(40.55,-2)(40.6,1)(40.65,-3.7)(40.7,2.9)(40.75,-2.2)(40.8,1)(40.85,-1.8)(40.9,0.8)(40.95,-2)(41,1)(41.1,-1.8)(41.2,0.7)(41.3,-1.6)(41.4,0.9)(41.5,-1.8)(41.6,0.6)(41.7,-1.5)(41.8,1.6)(41.85,-2.8)
(41.9,0.6)(42,-1.6)(42.1,0.5)(42.2,-1.5)(42.3,0.6)(42.4,-1.7)(42.5,0.5)(42.6,-1.5)(42.7,0.6)(42.8,-1.6)(42.9,0.5)(43,-1.5)(43.1,0.6)(43.2,-1.7)(43.3,0.4)(43.4,-1.5)(43.5,0.5)(43.6,-1.6)(43.7,0.4)(43.8,-1.5)(43.9,0.5)(44,-1.6)(44.1,0.4)(44.2,-1.5)(44.3,0.3)(44.4,-1.6)(44.5,0.4)(44.6,-1.4)(44.7,0.3)(44.8,-1.5)(44.9,0.4)(45,-1.6)(45.1,0.3)(45.2,-1.4)(45.3,0.4)(45.4,-1.5)(45.5,0.3)(45.6,-1.4)(45.7,0.2)(45.8,-1.5)(45.9,0.3)(46,-1.4)(46.1,0.2)(46.2,-1.3)(46.3,0.3)(46.4,-1.4)(46.5,0.2)(46.6,-1.4)(46.7,0.3)(46.8,-1.3)(46.9,0.3)(47,-1.4)(47.1,0.4)(47.2,-1.3)(47.3,0.6)(47.4,-1.5)
(47.5,1.6)(47.55,-1.8)(47.6,0.5)(47.7,-1.3)(47.8,0.3)(47.9,-1.2)(48,0.2)(48.1,-1.1)(48.2,0.1)(48.3,-1.2)(48.4,0)(48.5,-1.1)(48.6,0.1)(48.7,-1)(48.8,0)(48.9,-1.1)(49,-0.1)(49.1,-1)(49.2,0)(49.3,-1.1)(49.4,-0.1)(49.5,-1)(49.6,-0.1)(49.7,-1.1)(49.8,0)(49.9,-1)(50,-0.1)(50.1,-1.05)(50.2,-0.05)(50.3,-1.1)(50.4,-0.1)(50.5,-1)(50.6,-0.15)(50.7,-1.05)(50.8,-0.1)(50.9,-1)(51,-0.2)(51.1,-0.95)(51.2,-0.1)(51.3,-1)(51.4,-0.2)(51.5,-0.9)(51.6,-0.15)(51.7,-1)(51.8,-0.2)(51.9,-0.95)(52,-0.15)(52.1,-0.9)(52.2,-0.2)(52.3,-0.95)(52.4,-0.2)(52.5,-0.9)(52.6,-0.25)(52.7,-0.95)(52.8,-0.2)(52.9,-0.85)(53,-0.25)(53.1,-0.9)(53.2,-0.3)(53.3,-0.85)(53.4,-0.25)(53.5,-0.9)(53.6,-0.3)(53.7,-0.8)(53.8,-0.3)(53.9,-0.85)(54,-0.3)(54.1,-0.8)(54.2,-0.35)(54.3,-0.85)(54.4,-0.3)(54.5,-0.8)(54.6,-0.35)(54.7,-0.75)(54.8,-0.4)(54.9,-0.8)(55,-0.4)(55.1,-0.75)(55.2,-0.45)(55.3,-0.7)(55.4,-0.45)(55.5,-0.75)(55.6,-0.5)(55.7,-0.6)
};
\end{axis}
\pgfresetboundingbox
\useasboundingbox (-72.75pt,-64.5pt) rectangle (666pt,549.75pt);
\end{tikzpicture}
\end{document}
